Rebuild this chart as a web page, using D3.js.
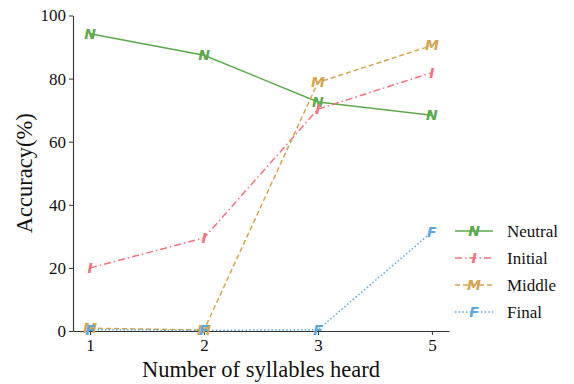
<!DOCTYPE html>
<html>
<head>
<meta charset="utf-8">
<script src="https://cdn.jsdelivr.net/npm/d3@7"></script>
<style>
  html, body { margin: 0; padding: 0; background: #fff; }
</style>
</head>
<body>
<svg id="chart" width="574" height="384"></svg>
<script>
// Syllable positions heard and accuracy per condition (%)
const categories = ["1", "2", "3", "5"];
const neutral = [94.2, 87.4, 72.6, 68.4];
const initial = [20.0, 29.5, 70.3, 81.9];
const middle  = [0.9, 0.3, 78.8, 90.5];
const final   = [0.4, 0.2, 0.4, 31.4];
const yTicks = [0, 20, 40, 60, 80, 100];

const series = [
  { name: "Neutral", values: neutral, marker: "N", color: "#5aaa4c", dash: null },
  { name: "Initial", values: initial, marker: "I", color: "#f2727f", dash: "7,3,1.5,3" },
  { name: "Middle",  values: middle,  marker: "M", color: "#d4a450", dash: "5,3" },
  { name: "Final",   values: final,   marker: "F", color: "#5ba7e0", dash: "1.5,2.2" }
];

const SERIF = "'Liberation Serif', 'Times New Roman', serif";
const SANS = "'DejaVu Sans', sans-serif";

const svg = d3.select("#chart");
const plotLeft = 73, plotRight = 449, plotTop = 15.5, plotBottom = 331;

const x = d3.scaleLinear().domain([-0.15, categories.length - 1 + 0.15]).range([plotLeft, plotRight]);
const y = d3.scaleLinear().domain([0, 100]).range([plotBottom, plotTop]);

// Axes
const xAxis = d3.axisBottom(x).tickValues(d3.range(categories.length))
  .tickFormat(i => categories[i]).tickSize(4).tickSizeOuter(0).tickPadding(4);
const yAxis = d3.axisLeft(y).tickValues(yTicks).tickSize(4).tickSizeOuter(0).tickPadding(3);

const gx = svg.append("g").attr("transform", `translate(0,${plotBottom})`).call(xAxis);
const gy = svg.append("g").attr("transform", `translate(${plotLeft},0)`).call(yAxis);
[gx, gy].forEach(g => {
  g.attr("font-family", null).attr("font-size", null);
  g.select(".domain").attr("stroke", "#333").attr("stroke-width", 1.1);
  g.selectAll(".tick line").attr("stroke", "#333").attr("stroke-width", 1);
  g.selectAll(".tick text").attr("fill", "#111")
    .style("font-size", "17px").style("font-family", SERIF);
});

// Axis titles
svg.append("text").attr("x", (plotLeft + plotRight) / 2).attr("y", 377)
  .attr("text-anchor", "middle").attr("fill", "#111")
  .style("font-size", "22.5px").style("font-family", SERIF)
  .text("Number of syllables heard");
svg.append("text").attr("transform", `translate(32,${(plotTop + plotBottom) / 2}) rotate(-90)`)
  .attr("text-anchor", "middle").attr("fill", "#111")
  .style("font-size", "22.5px").style("font-family", SERIF)
  .text("Accuracy(%)");

// Lines and letter markers
const line = d3.line().x((d, i) => x(i)).y(d => y(d));
const plot = svg.append("g");
series.forEach(s => {
  plot.append("path").datum(s.values).attr("d", line)
    .attr("fill", "none").attr("stroke", s.color).attr("stroke-width", 1.5)
    .attr("stroke-dasharray", s.dash);
});
series.forEach(s => {
  plot.selectAll(null).data(s.values).enter().append("text")
    .attr("x", (d, i) => x(i)).attr("y", d => y(d))
    .attr("text-anchor", "middle").attr("dominant-baseline", "central")
    .attr("fill", s.color)
    .style("font-weight", "bold").style("font-style", "italic")
    .style("font-size", "14px").style("font-family", SANS)
    .text(s.marker);
});

// Legend
const legend = svg.append("g");
series.forEach((s, i) => {
  const ly = 231 + i * 27;
  legend.append("line").attr("x1", 455).attr("x2", 493).attr("y1", ly).attr("y2", ly)
    .attr("stroke", s.color).attr("stroke-width", 1.5).attr("stroke-dasharray", s.dash);
  legend.append("text").attr("x", 474).attr("y", ly)
    .attr("text-anchor", "middle").attr("dominant-baseline", "central")
    .attr("fill", s.color)
    .style("font-weight", "bold").style("font-style", "italic")
    .style("font-size", "14px").style("font-family", SANS)
    .text(s.marker);
  legend.append("text").attr("x", 507).attr("y", ly)
    .attr("dominant-baseline", "central").attr("fill", "#111")
    .style("font-size", "17px").style("font-family", SERIF)
    .text(s.name);
});
</script>
</body>
</html>
